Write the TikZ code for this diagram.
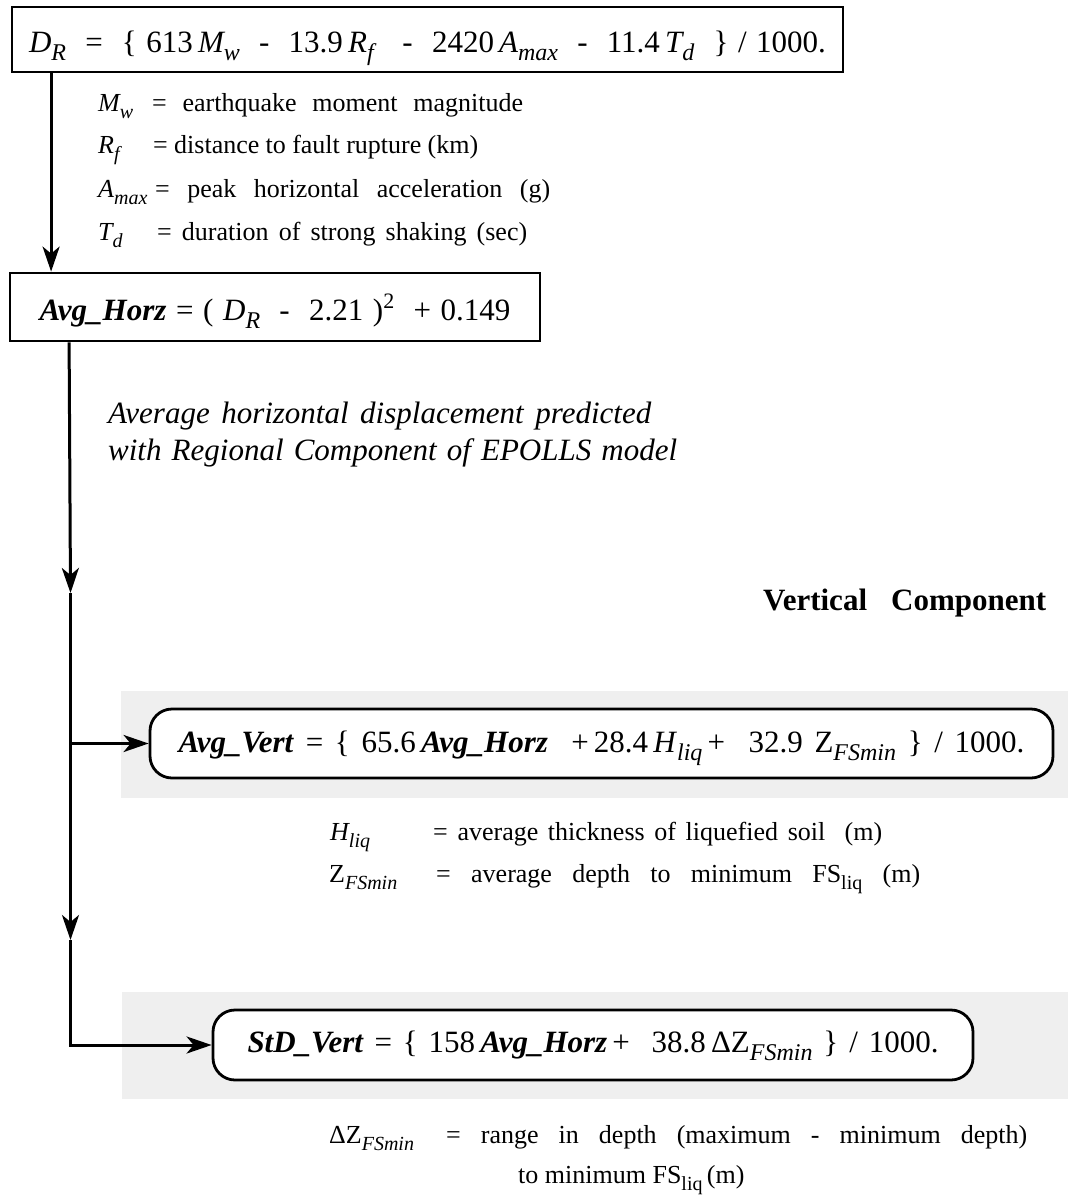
\documentclass[tikz,border=0pt]{standalone}
\usepackage{fontspec}
\setmainfont{Liberation Serif}
\usetikzlibrary{arrows.meta,calc}
\definecolor{bgray}{HTML}{EFEFEF}
\newcommand\fmain{\fontsize{31}{36}\selectfont}
\newcommand\fdesc{\fontsize{26}{30}\selectfont}
\newcommand\sbm[1]{\raisebox{-8pt}{\fontsize{24}{24}\selectfont #1}}
\newcommand\sbd[1]{\raisebox{-7pt}{\fontsize{20}{20}\selectfont #1}}
\newcommand\spm[1]{\raisebox{12pt}{\fontsize{22}{22}\selectfont #1}}
\newcommand\bi[1]{\textbf{\textit{#1}}}
\tikzset{
  box/.style={draw, line width=2.8pt, fill=white, inner sep=0pt, text depth=0pt, font=\fmain},
  rbox/.style={box, rounded corners=22pt},
  conn/.style={line width=3pt},
  arr/.style={conn, -{Stealth[length=25pt,width=17pt,inset=7pt]}},
  desc/.style={anchor=base west, inner sep=0pt, font=\fdesc},
  big/.style={anchor=base west, inner sep=0pt, font=\fmain},
  panel/.style={fill=bgray, draw=none}
}
\begin{document}
\begin{tikzpicture}[x=1pt,y=-1pt]
\useasboundingbox (0,0) rectangle (1068,1201);
% gray panels
\fill[panel] (121,691) rectangle (1068,798);
\fill[panel] (122,992) rectangle (1068,1099);
% box 1
\node[box, minimum width=831pt, minimum height=65pt, text height=27pt] (b1) at (427.5,39.5)
 {\makebox[797pt][s]{\itshape D\sbm{R}\upshape\ \ =\ \ \{\ 613\,\itshape M\sbm{w}\upshape\ \ -\ \ 13.9\,\itshape R\sbm{f}\upshape\ \ \ -\ \ 2420\,\itshape A\sbm{max}\upshape\ \ -\ \ 11.4\,\itshape T\sbm{d}\upshape\ \ \}\ /\ 1000.}};
% descriptions 1
\node[desc] (m1s) at (98,112) {\itshape M\sbd{w}};
\node[desc] (m1t) at (152,112) {\makebox[371pt][s]{=\ \ earthquake\ \ moment\ \ magnitude}};
\node[desc] (r1s) at (98,154) {\itshape R\sbd{f}};
\node[desc] (r1t) at (153,154) {\makebox[325pt][s]{=\ distance\ to\ fault\ rupture\ (km)}};
\node[desc] (a1s) at (98,197) {\itshape A\sbd{max}};
\node[desc] (a1t) at (155,197) {\makebox[395pt][s]{=\ \ peak\ \ horizontal\ \ acceleration\ \ (g)}};
\node[desc] (t1s) at (98,240) {\itshape T\sbd{d}};
\node[desc] (t1t) at (157,240) {\makebox[370pt][s]{=\ duration\ of\ strong\ shaking\ (sec)}};
% box 2
\node[box, minimum width=530pt, minimum height=68pt, text height=26pt] (b2) at (275,307)
 {\makebox[471pt][s]{\bi{Avg\_Horz}\ =\ (\ \itshape D\sbm{R}\upshape\ \ -\ \ 2.21\ )\spm{2}\ \ +\ 0.149}};
% caption
\node[big] (cap1) at (108,423) {\itshape\makebox[543pt][s]{Average\ horizontal\ displacement\ predicted}};
\node[big] (cap2) at (108,460) {\itshape\makebox[569pt][s]{with\ Regional\ Component\ of\ EPOLLS\ model}};
% vertical component heading
\node[big] (vc) at (763,610) {\bfseries\makebox[283pt][s]{Vertical\ \ Component}};
% box 3
\node[rbox, minimum width=903pt, minimum height=69pt, text height=17pt] (b3) at (601.5,743.5)
 {\makebox[846pt][s]{\bi{Avg\_Vert}\ =\ \{\ 65.6\,\bi{Avg\_Horz}\ \ +\,28.4\,\textit{H}\sbm{\itshape liq}\,+\ \ 32.9\ Z\sbm{\itshape FSmin}\ \}\ /\ 1000.}};
% descriptions 2
\node[desc] (h2s) at (330,840) {\itshape H\sbd{liq}};
\node[desc] (h2t) at (433,840) {\makebox[449pt][s]{=\ average\ thickness\ of\ liquefied\ soil\ \ (m)}};
\node[desc] (z2s) at (329,882) {Z\sbd{\itshape FSmin}};
\node[desc] (z2t) at (436,882) {\makebox[484pt][s]{=\ \ average\ \ depth\ \ to\ \ minimum\ \ FS\sbd{liq}\ \ (m)}};
% box 4
\node[rbox, minimum width=760pt, minimum height=70pt, text height=14pt] (b4) at (593,1045)
 {\makebox[691pt][s]{\bi{StD\_Vert}\ =\ \{\ 158\,\bi{Avg\_Horz}\,+\ \ 38.8\,ΔZ\sbm{\itshape FSmin}\ \}\ /\ 1000.}};
% descriptions 3
\node[desc] (d3s) at (329,1143) {ΔZ\sbd{\itshape FSmin}};
\node[desc] (d3t) at (446,1143) {\makebox[581pt][s]{=\ \ range\ \ in\ \ depth\ \ (maximum\ \ -\ \ minimum\ \ depth)}};
\node[desc] (d3u) at (518,1183) {to minimum FS\sbd{liq}\,(m)};
% connectors
\coordinate (k1) at (70.5,593);
\coordinate (k2) at (70.5,940);
\draw[arr] ($(b1.south west)+(40.5,0)$) -- ($(b2.north west)+(42.5,0)$);
\draw[arr] ($(b2.south west)+(60.5,0)$) -- (k1);
\draw[conn] (k1) -- (b3.west -| k1);
\draw[arr] (b3.west -| k1) -- (b3.west);
\draw[arr] (b3.west -| k1) -- (k2);
\draw[arr, line join=miter] (k2) -- (b4.west -| k2) -- (b4.west);
\end{tikzpicture}
\end{document}
